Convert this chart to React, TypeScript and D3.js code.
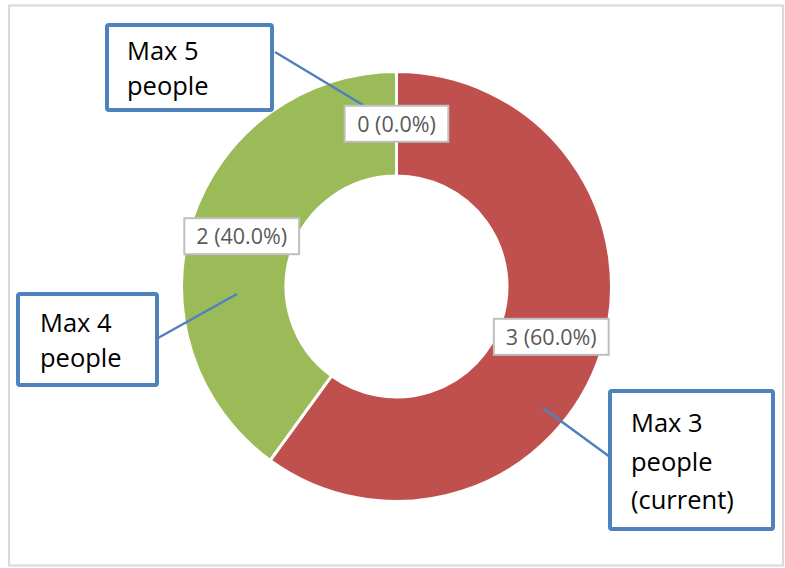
import React from "react";
import * as d3 from "d3";

const categories = ["Max 3 people (current)", "Max 4 people", "Max 5 people"];
const values = [3, 2, 0];
const colors = ["#c0504d", "#9bbb59", "#9bbb59"];
const calloutLines = [["Max 3", "people", "(current)"], ["Max 4", "people"], ["Max 5", "people"]];

const W = 785;
const H = 568;
const FONT = "'Open Sans', Lato, 'Liberation Sans', sans-serif";

// callout placement (annotation layout)
const callouts = [
  { x: 610, y: 391, w: 163, h: 138, tx: 631, ty: 432, lh: 38.5, lx1: 610, ly1: 457 },
  { x: 18, y: 294, w: 139, h: 91, tx: 40, ty: 332, lh: 35, lx1: 158, ly1: 338 },
  { x: 107, y: 25, w: 165, h: 85, tx: 127, ty: 60, lh: 35, lx1: 275, ly1: 52 },
];
const leaderEnds = [
  [543, 408],
  [237, 294],
  [363, 105],
];

export default function App() {
  const cx = 396.5;
  const cy = 286.5;
  const outerR = 215;
  const innerR = 110.5;
  const total = d3.sum(values);
  const pie = d3.pie<number>().sort(null).value((d) => d)(values);
  const arc = d3.arc<d3.PieArcDatum<number>>().innerRadius(innerR).outerRadius(outerR);
  const fmt = d3.format(".1%");

  return (
    <svg width={W} height={H} style={{ position: "absolute", left: 0, top: 0 }}>
      <rect x={0} y={0} width={W} height={H} fill="#fff" />
      <rect x={9} y={5.5} width={774} height={560} fill="#fff" stroke="#d9d9d9" strokeWidth={2} />
      <g transform={`translate(${cx},${cy})`}>
        {pie.map((p, i) => (
          <path key={i} d={arc(p) || ""} fill={colors[i]} stroke="#fff" strokeWidth={3} strokeLinejoin="round" />
        ))}
      </g>
      {/* leader lines */}
      {callouts.map((c, i) => (
        <line key={i} x1={c.lx1} y1={c.ly1} x2={leaderEnds[i][0]} y2={leaderEnds[i][1]} stroke="#4f81bd" strokeWidth={2.5} />
      ))}
      {/* data labels */}
      {pie.map((p, i) => {
        const [x, y] = arc.centroid(p);
        const label = `${values[i]} (${fmt(values[i] / total)})`;
        const bw = label.length * 11.2 + 14;
        return (
          <g key={i} transform={`translate(${cx + x},${cy + y})`}>
            <rect x={-bw / 2} y={-18} width={bw} height={36} fill="#fff" stroke="#bfbfbf" strokeWidth={2} />
            <text x={0} y={8} textAnchor="middle" fontFamily={FONT} fontSize={21.5} fill="#595959">
              {label}
            </text>
          </g>
        );
      })}
      {/* callouts */}
      {callouts.map((c, i) => (
        <g key={i}>
          <rect x={c.x} y={c.y} width={c.w} height={c.h} rx={2} fill="#fff" stroke="#4f81bd" strokeWidth={4} />
          {calloutLines[i].map((t, j) => (
            <text key={j} x={c.tx} y={c.ty + j * c.lh} fontFamily={FONT} fontSize={25.5} fill="#000">
              {t}
            </text>
          ))}
        </g>
      ))}
    </svg>
  );
}
